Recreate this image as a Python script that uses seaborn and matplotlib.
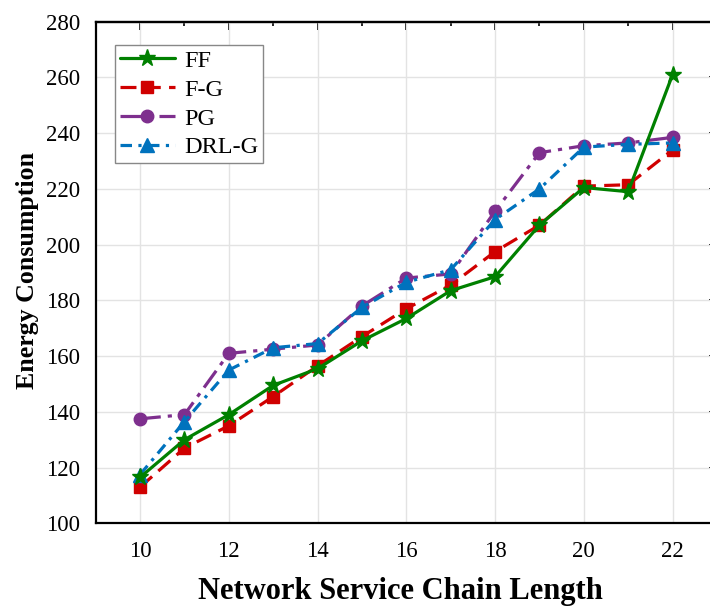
import numpy as np
import pandas as pd
import matplotlib
matplotlib.use("Agg")
import matplotlib.pyplot as plt
import seaborn as sns
from matplotlib.ticker import MultipleLocator

# ---- data ----
chain_length = [10, 11, 12, 13, 14, 15, 16, 17, 18, 19, 20, 21, 22]
ff = [116.5, 130, 139, 149.5, 155.5, 165.5, 173.5, 183.5, 188.5, 207, 220.5, 219, 261]
fg = [113, 127, 135, 145.5, 156.5, 167, 177, 185.5, 197.5, 207, 221, 221.5, 234]
pg = [137.5, 139, 161, 162.5, 164, 178, 188, 189.5, 212, 233, 235.5, 236.5, 238.5]
drlg = [117.5, 136.5, 155, 163, 164.5, 177.5, 186.5, 191, 209, 220, 235, 236, 236.5]
series_names = ["FF", "F-G", "PG", "DRL-G"]

df = pd.DataFrame({
    "x": chain_length * 4,
    "y": ff + fg + pg + drlg,
    "method": sum([[n] * len(chain_length) for n in series_names], []),
})

sns.set_theme(style="white")
plt.rcParams["font.family"] = ["Liberation Serif", "DejaVu Serif"]
plt.rcParams["text.color"] = "black"
plt.rcParams["axes.labelcolor"] = "black"
plt.rcParams["xtick.color"] = "black"
plt.rcParams["ytick.color"] = "black"

fig = plt.figure(figsize=(7.1, 6.1), dpi=100)
ax = fig.add_axes([0.1348, 0.1421, 0.875, 0.8223])

styles = {
    "FF": dict(color="#008000", marker="*", ms=12.5, dashes=None, z=6),
    "F-G": dict(color="#D00000", marker="s", ms=8.5, dashes=(5, 2.6), z=3),
    "PG": dict(color="#7E2F8E", marker="o", ms=9, dashes=(6.5, 2.2, 1.3, 2.2), z=4),
    "DRL-G": dict(color="#0072BD", marker="^", ms=9.5, dashes=(3.6, 2.0, 1.0, 2.0), z=5),
}

handles = []
for name in series_names:
    st = styles[name]
    sub = df[df["method"] == name]
    sns.lineplot(data=sub, x="x", y="y", ax=ax, color=st["color"], lw=2.3,
                 marker=st["marker"], markersize=st["ms"], markeredgecolor=st["color"],
                 markeredgewidth=1.0, label=name, zorder=st["z"], legend=False)
    line = ax.lines[-1]
    if st["dashes"] is not None:
        line.set_dashes(st["dashes"])
    handles.append(line)

ax.set_xlim(9, 23)
ax.set_ylim(100, 280)
ax.xaxis.set_major_locator(MultipleLocator(2))
ax.xaxis.set_minor_locator(MultipleLocator(1))
ax.yaxis.set_major_locator(MultipleLocator(20))
ax.yaxis.set_minor_locator(MultipleLocator(10))
ax.set_xticks([10, 12, 14, 16, 18, 20, 22])

ax.grid(True, which="major", color="#e3e3e3", lw=1.0)
ax.set_axisbelow(True)

for sp in ax.spines.values():
    sp.set_linewidth(1.6)
    sp.set_color("black")

ax.tick_params(axis="both", which="major", direction="out", length=6, width=1.3,
               labelsize=16.5, color="black", labelcolor="black")
ax.tick_params(axis="x", which="major", pad=7)
ax.tick_params(axis="y", which="major", pad=5)
ax.tick_params(axis="both", which="minor", direction="out", length=3, width=1.2, color="black")

# mirrored inward ticks on top and right
secx = ax.secondary_xaxis("top")
secx.xaxis.set_major_locator(MultipleLocator(2))
secx.xaxis.set_minor_locator(MultipleLocator(1))
secx.tick_params(axis="x", which="major", direction="in", length=6, width=1.3, labeltop=False)
secx.tick_params(axis="x", which="minor", direction="in", length=3, width=1.2)
secx.spines["top"].set_linewidth(1.6)
secy = ax.secondary_yaxis("right")
secy.yaxis.set_major_locator(MultipleLocator(20))
secy.yaxis.set_minor_locator(MultipleLocator(10))
secy.tick_params(axis="y", which="major", direction="in", length=6, width=1.3, labelright=False)
secy.tick_params(axis="y", which="minor", direction="in", length=3, width=1.2)

ax.set_xlabel("Network Service Chain Length", fontsize=22, fontweight="bold", color="black")
ax.set_ylabel("Energy Consumption", fontsize=18.6, fontweight="bold", color="black")
ax.xaxis.set_label_coords(0.49, -0.108)
ax.yaxis.set_label_coords(-0.092, 0.504)

leg = ax.legend(handles=handles, labels=series_names, loc="upper left",
                bbox_to_anchor=(0.031, 0.9535), fontsize=17.5, frameon=True, fancybox=False,
                edgecolor="#888888", framealpha=1, handlelength=2.26, handletextpad=0.4,
                labelspacing=0.28, borderpad=0.2, borderaxespad=0.0)
leg.get_frame().set_linewidth(1.0)
for t in leg.get_texts():
    t.set_color("black")

fig.savefig("out.png", dpi=100)
